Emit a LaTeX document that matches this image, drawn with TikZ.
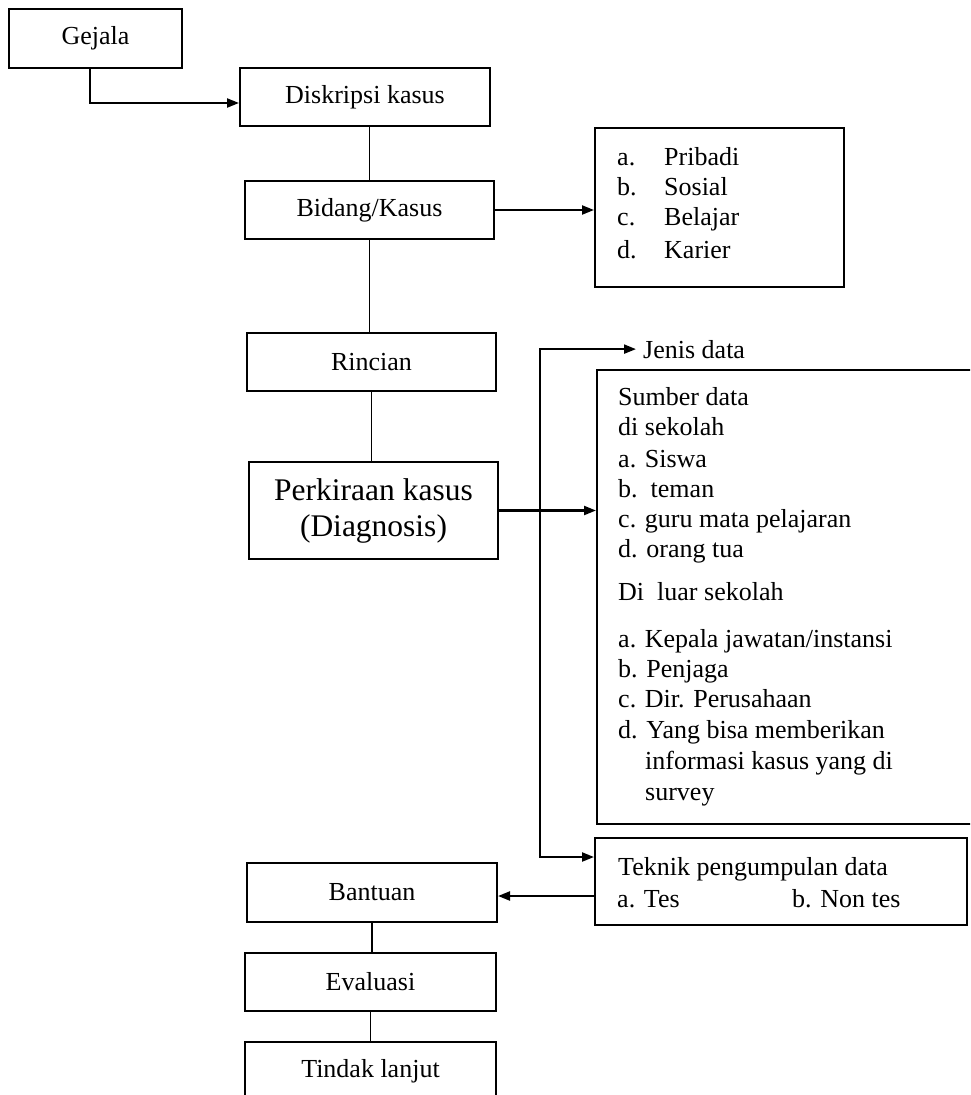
\documentclass[tikz,border=0pt]{standalone}
\usepackage{fontspec}
\setmainfont{Liberation Serif}
\usetikzlibrary{arrows.meta}

\tikzset{
  box/.style={draw, line width=2pt, minimum width=249pt, minimum height=58pt, inner sep=0pt},
  lbl/.style={anchor=base west, inner sep=0pt},
  ln/.style={line width=1.8pt},
  arr/.style={line width=2.2pt, ->},
}

\begin{document}
\begin{tikzpicture}[x=1pt, y=-1pt, >={Triangle[length=12pt,width=9pt]}, font=\fontsize{26}{30}\selectfont]
\useasboundingbox (0,0) rectangle (970,1095);
\clip (0,0) rectangle (970,1095);

% left column
\node[box, minimum width=173pt, minimum height=59pt] (gej) at (95.5,38.5) {Gejala};
\node[box, minimum width=250pt] (dis) at (365,97) {Diskripsi kasus};
\node[box] (bid) at (369.5,210) {Bidang/Kasus};
\node[box] (rin) at (371.5,362) {Rincian};
\node[box, minimum height=97pt, align=center, font=\fontsize{31.5}{36}\selectfont] (per) at (373.5,510.5) {Perkiraan kasus\\(Diagnosis)};
\node[box, minimum width=250pt, minimum height=59pt] (ban) at (372,892.5) {Bantuan};
\node[box, minimum width=251pt] (eva) at (370.5,982) {Evaluasi};
\node[box, minimum width=251pt] (tin) at (370.5,1071) {Tindak lanjut};

% bidang list
\node[box, minimum height=159pt] (bdg) at (719.5,207.5) {};
\foreach \y/\k/\txt [count=\i] in {165/a./Pribadi, 195/b./Sosial, 225/c./Belajar, 258/d./Karier}
  \node[lbl] (bdg\i) at (617,\y) {\makebox[47pt][l]{\k}\txt};

% data
\node[lbl] (jen) at (643,358) {Jenis data};
\node[box, anchor=north west, minimum width=420pt, minimum height=454pt] (sum) at (596,369) {};
\foreach \x/\y/\txt [count=\i] in {618/405/Sumber data, 618/435/di sekolah, 618/467/a. Siswa,
    618/497/b.\ \ teman, 618/527/c. guru mata pelajaran, 618/557/d. orang tua,
    618/600/Di\ \ luar sekolah, 618/647/{a. Kepala jawatan/instansi}, 618/677/b. Penjaga,
    618/707/c. Dir. Perusahaan, 618/738/d. Yang bisa memberikan,
    645/769/informasi kasus yang di, 645/800/survey}
  \node[lbl] (sum\i) at (\x,\y) {\txt};

\node[box, minimum width=372pt, minimum height=87pt] (tek) at (781,881.5) {};
\node[lbl] (tek1) at (618,875) {Teknik pengumpulan data};
\node[lbl] (tek2) at (617,907) {a. Tes};
\node[lbl] (tek3) at (792,907) {b. Non tes};

% connectors
\draw[arr] (gej.south -| 90,0) |- ([yshift=-6pt]dis.west);
\draw[ln] (bid.north |- dis.south) -- (bid.north);
\draw[ln] (bid.south) -- (bid.south |- rin.north);
\draw[ln] (rin.south) -- (rin.south |- per.north);
\draw[arr] (bid.east) -- (bid.east -| bdg.west);
\draw[arr] (per.east) -- (per.east -| sum.west);
\coordinate (bus) at (540,514);
\draw[arr] (bus) |- ([xshift=-7pt]jen.west);
\draw[arr] (bus) |- ([yshift=24.5pt]tek.west);
\draw[arr] ([yshift=-14.5pt]tek.west) -- ([yshift=-14.5pt]tek.west -| ban.east);
\draw[ln] (ban.south) -- (ban.south |- eva.north);
\draw[ln] (eva.south) -- (eva.south |- tin.north);
\end{tikzpicture}
\end{document}
